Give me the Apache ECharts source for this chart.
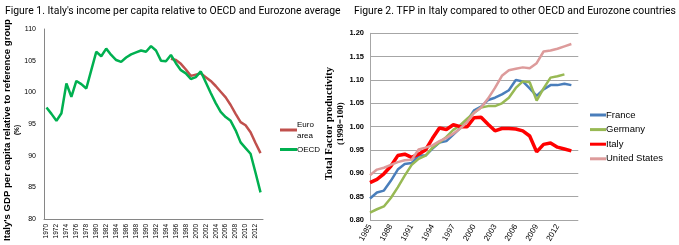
<!DOCTYPE html>
<html><head><meta charset="utf-8">
<script src="https://cdn.jsdelivr.net/npm/echarts@6/dist/echarts.min.js"></script>
<style>html,body{margin:0;padding:0;background:#fff}#c{width:679px;height:245px}</style>
</head><body><div id="c"></div>
<script>
// ---------- Figure 1 data ----------
const years1 = ['1970','1971','1972','1973','1974','1975','1976','1977','1978','1979','1980','1981','1982','1983','1984','1985','1986','1987','1988','1989','1990','1991','1992','1993','1994','1995','1996','1997','1998','1999','2000','2001','2002','2003','2004','2005','2006','2007','2008','2009','2010','2011','2012','2013'];
const oecd = [97.6,96.6,95.5,96.7,101.4,99.3,101.8,101.3,100.6,103.5,106.4,105.7,106.9,105.9,105.1,104.8,105.5,106.0,106.3,106.6,106.4,107.3,106.6,105.0,104.9,105.9,104.6,103.5,103.0,102.1,102.4,103.3,101.6,99.9,98.3,96.9,96.1,95.5,94.0,92.1,91.2,90.3,87.3,84.2];
const euroArea = [null,null,null,null,null,null,null,null,null,null,null,null,null,null,null,null,null,null,null,null,null,null,null,null,null,105.3,105.1,104.5,103.6,102.6,102.8,103.0,102.4,101.8,101.0,100.1,99.2,98.0,96.6,95.3,94.8,93.7,92.0,90.4];
// ---------- Figure 2 data ----------
const years2 = ['1985','1986','1987','1988','1989','1990','1991','1992','1993','1994','1995','1996','1997','1998','1999','2000','2001','2002','2003','2004','2005','2006','2007','2008','2009','2010','2011','2012','2013','2014','2015'];
const france = [0.846,0.859,0.863,0.884,0.908,0.920,0.922,0.938,0.938,0.953,0.966,0.969,0.983,0.997,1.013,1.035,1.043,1.057,1.062,1.069,1.078,1.100,1.097,1.082,1.066,1.080,1.089,1.089,1.092,1.089,null];
const germany = [0.816,0.823,0.829,0.847,0.870,0.895,0.918,0.931,0.938,0.955,0.966,0.978,0.993,1.003,1.017,1.030,1.041,1.044,1.044,1.050,1.062,1.083,1.097,1.095,1.056,1.082,1.105,1.108,1.112,null,null];
const italy = [0.880,0.887,0.899,0.915,0.938,0.941,0.934,0.941,0.950,0.975,0.997,0.994,1.004,1.000,1.000,1.019,1.020,1.005,0.991,0.996,0.996,0.995,0.991,0.980,0.946,0.962,0.965,0.956,0.952,0.948,null];
const unitedStates = [0.896,0.908,0.912,0.918,0.924,0.928,0.929,0.951,0.955,0.960,0.969,0.976,0.985,0.996,1.010,1.030,1.041,1.060,1.083,1.109,1.121,1.124,1.127,1.125,1.136,1.161,1.163,1.167,1.172,1.177,null];

const titleFont = 'Roboto, "Open Sans", sans-serif';
const chart = echarts.init(document.getElementById('c'), null, {renderer:'canvas'});
chart.setOption({
  animation: false,
  backgroundColor: '#fff',
  title: [
    {text: "Figure 1. Italy's income per capita relative to OECD and Eurozone average", left: 0, top: 1,
     textStyle: {fontFamily: titleFont, fontSize: 10.4, fontWeight: 'normal', color: '#000'}},
    {text: 'Figure 2. TFP in Italy compared to other OECD and Eurozone countries', left: 349, top: 1,
     textStyle: {fontFamily: titleFont, fontSize: 10.4, fontWeight: 'normal', color: '#000'}}
  ],
  grid: [
    {left: 44, top: 29, width: 219, height: 190},
    {left: 370, top: 33.3, width: 208.3, height: 189.4}
  ],
  legend: [
    {orient: 'vertical', left: 280, top: 119, padding: 0, itemGap: 3, itemWidth: 17, itemHeight: 3, icon: 'rect',
     data: ['Euro area', 'OECD'],
     formatter: n => n === 'Euro area' ? 'Euro\narea' : n,
     textStyle: {fontFamily: 'Liberation Sans', fontSize: 8, color: '#000', padding: [0,0,0,-5], lineHeight: 11}},
    {orient: 'vertical', left: 590, top: 110, padding: 0, itemGap: 4.6, itemWidth: 16, itemHeight: 3, icon: 'rect',
     data: ['France', 'Germany', 'Italy', 'United States'],
     textStyle: {fontFamily: 'Liberation Sans', fontSize: 9.5, color: '#000', padding: [0,0,0,-5], lineHeight: 10}}
  ],
  xAxis: [
    {type: 'category', gridIndex: 0, data: years1, boundaryGap: true,
     axisLine: {lineStyle: {color: '#868686'}}, axisTick: {show: false},
     axisLabel: {interval: 1, rotate: 90, fontSize: 6.5, fontFamily: 'Liberation Sans', color: '#000', margin: 5}},
    {type: 'category', gridIndex: 1, data: years2, boundaryGap: false,
     axisLine: {show: false}, axisTick: {show: false},
     axisLabel: {interval: 2, rotate: 60, fontSize: 8, fontFamily: 'Liberation Sans', color: '#000', margin: 5, showMaxLabel: false}}
  ],
  yAxis: [
    {type: 'value', gridIndex: 0, min: 80, max: 110, interval: 5,
     axisLine: {show: true, lineStyle: {color: '#868686'}}, axisTick: {show: false}, splitLine: {show: false},
     axisLabel: {fontSize: 7, fontFamily: 'Liberation Sans', color: '#000', margin: 8},
     name: "{a|Italy's GDP per capita relative to reference group}\n{b|(%)}",
     nameLocation: 'middle', nameGap: 22, nameRotate: 90,
     nameTextStyle: {align: 'center', padding: [0, 12, 0, 0], rich: {
       a: {fontFamily: 'Liberation Sans', fontWeight: 'bold', fontSize: 9.6, color: '#000', lineHeight: 11},
       b: {fontFamily: 'Liberation Sans', fontWeight: 'bold', fontSize: 6.5, color: '#000', lineHeight: 9}}}},
    {type: 'value', gridIndex: 1, min: 0.8, max: 1.2, interval: 0.05,
     axisLine: {show: true, lineStyle: {color: '#a6a6a6'}}, axisTick: {show: false},
     splitLine: {show: true, lineStyle: {color: '#a6a6a6', width: 1}},
     axisLabel: {fontSize: 7.5, fontWeight: 'bold', fontFamily: 'Liberation Sans', color: '#000', margin: 6,
       formatter: v => v.toFixed(2)},
     name: '{a|Total Factor productivity}\n{b|(1998=100)}',
     nameLocation: 'middle', nameGap: 18, nameRotate: 90,
     nameTextStyle: {align: 'center', padding: [0, 0, 0, 6], rich: {
       a: {fontFamily: 'Liberation Serif', fontWeight: 'bold', fontSize: 10.5, color: '#000', lineHeight: 12},
       b: {fontFamily: 'Liberation Serif', fontWeight: 'bold', fontSize: 9, color: '#000', lineHeight: 11}}}}
  ],
  series: [
    {name: 'Euro area', type: 'line', xAxisIndex: 0, yAxisIndex: 0, data: euroArea, symbol: 'none',
     lineStyle: {color: '#c0504d', width: 2.5}, itemStyle: {color: '#c0504d'}},
    {name: 'OECD', type: 'line', xAxisIndex: 0, yAxisIndex: 0, data: oecd, symbol: 'none',
     lineStyle: {color: '#00b050', width: 2.5}, itemStyle: {color: '#00b050'}},
    {name: 'France', type: 'line', xAxisIndex: 1, yAxisIndex: 1, data: france, symbol: 'none',
     lineStyle: {color: '#4a7ebb', width: 2.5}, itemStyle: {color: '#4a7ebb'}},
    {name: 'Germany', type: 'line', xAxisIndex: 1, yAxisIndex: 1, data: germany, symbol: 'none',
     lineStyle: {color: '#98b954', width: 2.5}, itemStyle: {color: '#98b954'}},
    {name: 'Italy', type: 'line', xAxisIndex: 1, yAxisIndex: 1, data: italy, symbol: 'none',
     lineStyle: {color: '#ff0000', width: 3.5}, itemStyle: {color: '#ff0000'}},
    {name: 'United States', type: 'line', xAxisIndex: 1, yAxisIndex: 1, data: unitedStates, symbol: 'none',
     lineStyle: {color: '#dd9b9b', width: 2.5}, itemStyle: {color: '#dd9b9b'}}
  ]
});
</script></body></html>
